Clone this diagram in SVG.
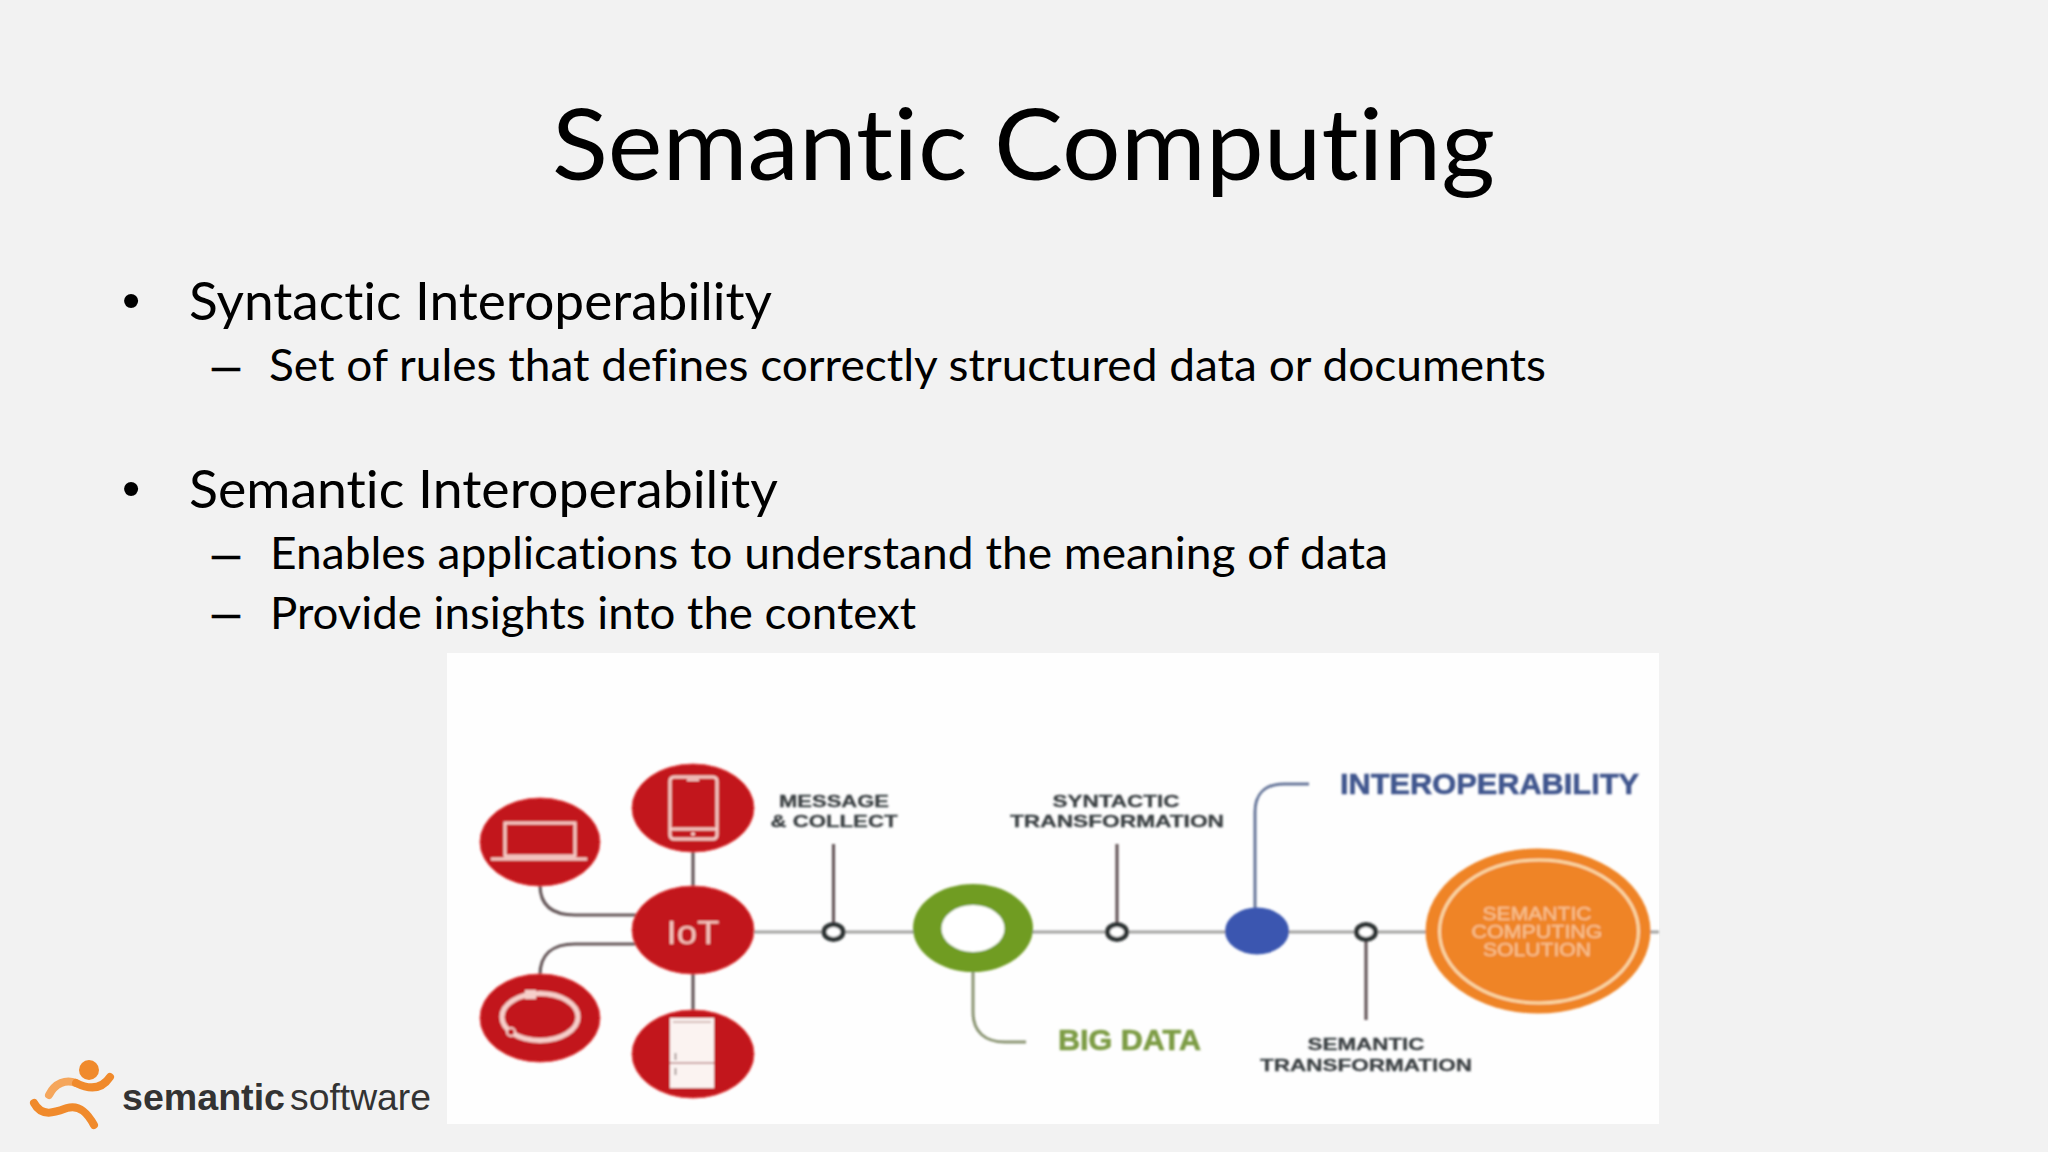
<svg xmlns="http://www.w3.org/2000/svg" width="2048" height="1152" viewBox="0 0 2048 1152">
<style>
.h{font-family:Lato,"Liberation Sans",sans-serif;fill:#000;font-variant-ligatures:none}
.b{font-family:"Liberation Sans",Arial,sans-serif;fill:#000}
.l1{font-size:52px}.l2{font-size:45px}
.dash{font-family:"Liberation Sans",Arial,sans-serif;font-size:45px;fill:#000;stroke:#000;stroke-width:.5}
.cap{font-family:"Liberation Sans",Arial,sans-serif;font-weight:700;font-size:17px;fill:#3a3f42;stroke:#3a3f42;stroke-width:.3;text-anchor:middle}
.sol{font-family:"Liberation Sans",Arial,sans-serif;font-size:19px;fill:#f7c190;stroke:#f7c190;stroke-width:.3;text-anchor:middle}
.big{font-family:"Liberation Sans",Arial,sans-serif;font-weight:700;font-size:29px;stroke-width:.6}
.red{fill:#c2191c;stroke:#e8403f;stroke-width:1}
.ic{fill:none;stroke:#f6cfca;stroke-width:3}
.ln{fill:none;stroke:#a3a3a1;stroke-width:3}
.dk{fill:none;stroke:#66585a;stroke-width:3.2}
.ring{fill:#fff;stroke:#2f3436;stroke-width:5}
.sw{fill:none;stroke-linecap:round;stroke-linejoin:round;stroke-width:8}
</style>
<defs><filter id="soft" x="-2%" y="-2%" width="104%" height="104%"><feGaussianBlur stdDeviation="0.8"/></filter></defs>
<rect width="2048" height="1152" fill="#f2f2f2"/>
<g id="title"><text class="h" x="552" y="180" font-size="99" textLength="943" lengthAdjust="spacingAndGlyphs">Semantic Computing</text></g>
<g id="body">
<text class="b l1" x="122" y="318">•</text>
<text class="h l1" x="189" y="320" textLength="583" lengthAdjust="spacingAndGlyphs">Syntactic Interoperability</text>
<text class="dash" x="212" y="381" textLength="28" lengthAdjust="spacingAndGlyphs">–</text>
<text class="h l2" x="269" y="381" textLength="1277" lengthAdjust="spacingAndGlyphs">Set of rules that defines correctly structured data or documents</text>
<text class="b l1" x="122" y="506">•</text>
<text class="h l1" x="189" y="508" textLength="589" lengthAdjust="spacingAndGlyphs">Semantic Interoperability</text>
<text class="dash" x="212" y="569" textLength="28" lengthAdjust="spacingAndGlyphs">–</text>
<text class="h l2" x="270" y="569" textLength="1118" lengthAdjust="spacingAndGlyphs">Enables applications to understand the meaning of data</text>
<text class="dash" x="212" y="628" textLength="28" lengthAdjust="spacingAndGlyphs">–</text>
<text class="h l2" x="270" y="629" textLength="646" lengthAdjust="spacingAndGlyphs">Provide insights into the context</text>
</g>
<rect x="447" y="653" width="1212" height="471" fill="#fefefe"/>
<g filter="url(#soft)">
<g id="connectors">
<path class="ln" d="M750 932H1659"/>
<path class="dk" d="M693 850V890M693 972V1012"/>
<path class="dk" d="M540 885C540 905 552 915 575 915H636"/>
<path class="dk" d="M540 975C540 955 552 944 575 944H636"/>
<path class="dk" d="M833.500 844V924M1117 844V924M1366 940V1020" stroke="#5a5c5e"/>
<path d="M973 970V1012C973 1032 985 1042 1005 1042H1026" fill="none" stroke="#8a9472" stroke-width="3"/>
<path d="M1255 910V812C1255 794 1265 784 1284 784H1309" fill="none" stroke="#66769a" stroke-width="3"/>
</g>
<g id="node-laptop"><ellipse class="red" cx="540" cy="842" rx="60" ry="44"/>
<rect class="ic" x="505" y="823" width="70" height="33"/><path class="ic" d="M491 859H587"/></g>
<g id="node-phone"><ellipse class="red" cx="693" cy="808" rx="61" ry="44"/>
<rect class="ic" x="670" y="777" width="47" height="62" rx="4"/><path class="ic" d="M670 829H717"/><circle cx="693" cy="834" r="2" fill="#f6cfca"/><path d="M687 780H699" stroke="#f6cfca" stroke-width="2"/></g>
<g id="node-iot"><ellipse class="red" cx="693" cy="930" rx="61" ry="44"/>
<text x="693" y="944" font-family="Liberation Sans,Arial,sans-serif" font-size="33" fill="#f5c6bf" text-anchor="middle" textLength="53" lengthAdjust="spacingAndGlyphs">IoT</text></g>
<g id="node-band"><ellipse class="red" cx="540" cy="1018" rx="60" ry="44"/>
<ellipse cx="540" cy="1017" rx="38" ry="23.500" fill="none" stroke="#f6cfca" stroke-width="5"/><rect x="525" y="990" width="11" height="9" fill="#f6cfca"/><circle cx="511" cy="1032" r="4" fill="#c2191c" stroke="#f6cfca" stroke-width="2"/></g>
<g id="node-fridge"><ellipse class="red" cx="693" cy="1054" rx="61" ry="44"/>
<rect x="670" y="1018" width="44" height="70" fill="#fbf3f1"/><path d="M673 1022H711" stroke="#c9a9a5" stroke-width="1.500"/><path d="M670 1063H714" stroke="#b88" stroke-width="1.500"/><path d="M675.500 1053V1060M675.500 1068V1075" stroke="#8d7a78" stroke-width="1.500"/></g>
<g id="node-message"><ellipse class="ring" cx="833.500" cy="932" rx="9.500" ry="7.500"/>
<text class="cap" x="834" y="807" textLength="110" lengthAdjust="spacingAndGlyphs">MESSAGE</text>
<text class="cap" x="834" y="827" textLength="127" lengthAdjust="spacingAndGlyphs">&amp; COLLECT</text></g>
<g id="node-bigdata"><ellipse cx="973" cy="928" rx="60" ry="44" fill="#709c24"/><ellipse cx="973" cy="928.500" rx="31.500" ry="23.500" fill="#fff"/>
<text class="big" x="1058" y="1050" fill="#7d9c45" stroke="#7d9c45" textLength="143" lengthAdjust="spacingAndGlyphs">BIG DATA</text></g>
<g id="node-syntactic"><ellipse class="ring" cx="1117" cy="932" rx="9.500" ry="7.500"/>
<text class="cap" x="1116" y="807" textLength="127" lengthAdjust="spacingAndGlyphs">SYNTACTIC</text>
<text class="cap" x="1117" y="827" textLength="214" lengthAdjust="spacingAndGlyphs">TRANSFORMATION</text></g>
<g id="node-interoperability"><ellipse cx="1257" cy="931" rx="32" ry="23.500" fill="#3a56b0"/>
<text class="big" x="1340" y="794" fill="#41568e" stroke="#41568e" textLength="299" lengthAdjust="spacingAndGlyphs">INTEROPERABILITY</text></g>
<g id="node-semantic"><ellipse class="ring" cx="1366" cy="932" rx="9.500" ry="7.500"/>
<text class="cap" x="1366" y="1050" textLength="117" lengthAdjust="spacingAndGlyphs">SEMANTIC</text>
<text class="cap" x="1366" y="1071" textLength="212" lengthAdjust="spacingAndGlyphs">TRANSFORMATION</text></g>
<g id="node-solution"><ellipse cx="1538" cy="931" rx="112.500" ry="82.500" fill="#ef8428"/>
<ellipse cx="1539" cy="931.500" rx="99.500" ry="71.500" fill="none" stroke="#fad8a6" stroke-width="3"/>
<text class="sol" x="1537" y="920" textLength="109" lengthAdjust="spacingAndGlyphs">SEMANTIC</text>
<text class="sol" x="1537" y="938" textLength="131" lengthAdjust="spacingAndGlyphs">COMPUTING</text>
<text class="sol" x="1537" y="956" textLength="108" lengthAdjust="spacingAndGlyphs">SOLUTION</text></g>
</g>
<g id="logo">
<circle cx="89" cy="1070" r="10" fill="#f08a2c"/>
<path class="sw" stroke="#f5a65c" d="M49 1095C55 1083 66 1079 76 1083"/>
<path class="sw" stroke="#f08a2c" d="M76 1083C86 1088 100 1092 110 1077"/>
<path class="sw" stroke="#f08a2c" d="M34 1103C42 1118 56 1112 67 1108C80 1104 88 1114 94 1125"/>
<text x="122" y="1110" font-family="Liberation Sans,Arial,sans-serif" font-weight="700" font-size="37" fill="#333" textLength="163" lengthAdjust="spacingAndGlyphs">semantic</text>
<text x="290" y="1110" font-family="Liberation Sans,Arial,sans-serif" font-size="37" fill="#333" textLength="141" lengthAdjust="spacingAndGlyphs">software</text>
</g>
</svg>
